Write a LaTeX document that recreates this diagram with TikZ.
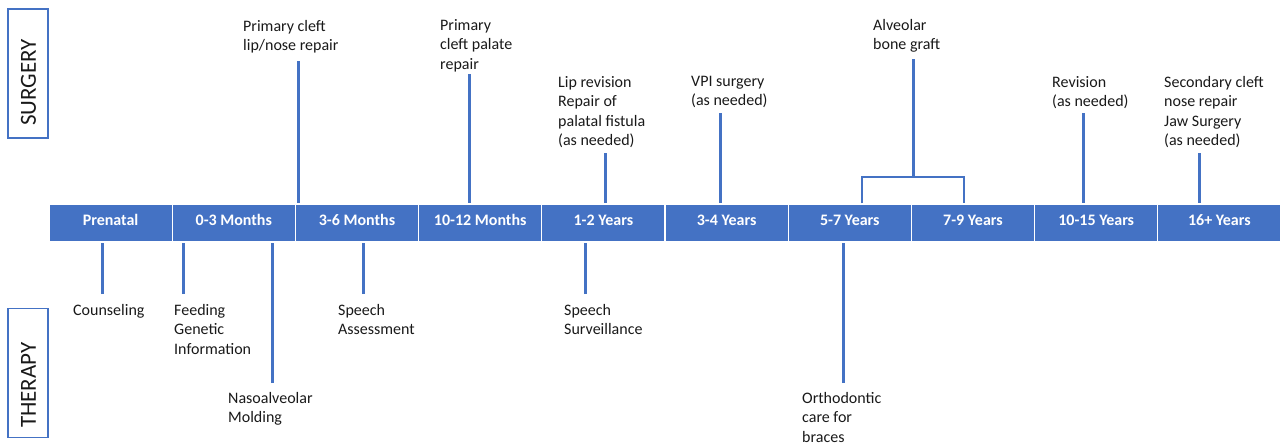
\documentclass[tikz,border=0pt]{standalone}
\usepackage{fontspec}
\setmainfont{Carlito}
\usepackage{tikz}
\definecolor{tlblue}{RGB}{68,114,196}
\tikzset{period/.style={draw=white, line width=1.2pt, fill=tlblue, minimum width=123.2pt, minimum height=38pt, inner sep=0pt, text height=12pt, text depth=8pt, text=white, font=\bfseries\fontsize{16}{19}\selectfont}}
\tikzset{stem/.style={tlblue, line width=3pt}}
\tikzset{brk/.style={tlblue, line width=1.5pt}}
\tikzset{event/.style={anchor=north west, inner sep=0pt, align=left, text=black!90, font=\fontsize{16}{19.4}\selectfont}}
\tikzset{sidebox/.style={draw=tlblue, line width=1.5pt, minimum width=40pt, minimum height=129pt, inner sep=0pt}}
\tikzset{sidetext/.style={rotate=90, inner sep=0pt, text=black!90, font=\fontsize{23}{27}\selectfont}}

\begin{document}
\begin{tikzpicture}[x=1pt, y=-1pt]
    \useasboundingbox(0, 0) rectangle (1282, 447);
    % the time line
    \foreach \t [count=\i] in {Prenatal, 0-3 Months, 3-6 Months, 10-12 Months, 1-2 Years, 3-4 Years, 5-7 Years, 7-9 Years, 10-15 Years, 16+ Years}
        \node[period](b\i) at ({49+123.2*(\i-.5)}, 223){\t};
    % side labels
    \node[sidebox](surgbox) at (28, 73.5){};
    \node[sidetext](surg) at (28.5, 82.5){SURGERY};
    \node[sidebox](therbox) at (28, 373){};
    \node[sidetext](ther) at (28.5, 385){THERAPY};
    % surgery
    \node[event](lip) at (243, 20){Primary cleft\\lip/nose repair};
    \node[event](palate) at (440, 19){Primary\\cleft palate\\repair};
    \node[event](lipRev) at (558, 76){Lip revision\\Repair of\\palatal fistula\\(as needed)};
    \node[event](vpi) at (691, 76){VPI surgery\\(as needed)};
    \node[event](bone) at (873, 19){Alveolar\\bone graft};
    \node[event](rev) at (1052, 76){Revision\\(as needed)};
    \node[event](sec) at (1164, 76){Secondary cleft\\nose repair\\Jaw Surgery\\(as needed)};
    \coordinate(lipT) at (298, 61);
    \coordinate(palateT) at (469, 74);
    \coordinate(lipRevT) at (605, 153);
    \coordinate(vpiT) at (720, 113);
    \coordinate(boneT) at (913, 59);
    \coordinate(revT) at (1083, 113);
    \coordinate(secT) at (1199, 153);
    \draw[stem](lipT)--(lipT |- b2.north);
    \draw[stem](palateT)--(palateT |- b4.north);
    \draw[stem](lipRevT)--(lipRevT |- b5.north);
    \draw[stem](vpiT)--(vpiT |- b6.north);
    \draw[stem](revT)--(revT |- b9.north);
    \draw[stem](secT)--(secT |- b10.north);
    % bracket over 5-7 and 7-9 years
    \coordinate(boneB) at (913, 177);
    \coordinate(boneL) at (862, 177);
    \coordinate(boneR) at (964, 177);
    \draw[stem](boneT)--(boneB);
    \draw[brk](boneL |- b7.north)--(boneL)--(boneR)--(boneR |- b8.north);
    % therapy
    \node[event](couns) at (73, 304){Counseling};
    \node[event](feed) at (174, 304){Feeding\\Genetic\\Information};
    \node[event](naso) at (228, 392){Nasoalveolar\\Molding};
    \node[event](speechA) at (338, 304){Speech\\Assessment};
    \node[event](speechS) at (564, 304){Speech\\Surveillance};
    \node[event](ortho) at (802, 392){Orthodontic\\care for\\braces};
    \coordinate(counsT) at (102, 294);
    \coordinate(feedT) at (183, 294);
    \coordinate(nasoT) at (272, 383);
    \coordinate(speechAT) at (363, 294);
    \coordinate(speechST) at (585, 294);
    \coordinate(orthoT) at (843, 383);
    \draw[stem](counsT)--(counsT |- b1.south);
    \draw[stem](feedT)--(feedT |- b2.south);
    \draw[stem](nasoT)--(nasoT |- b2.south);
    \draw[stem](speechAT)--(speechAT |- b3.south);
    \draw[stem](speechST)--(speechST |- b5.south);
    \draw[stem](orthoT)--(orthoT |- b7.south);
\end{tikzpicture}
\end{document}
